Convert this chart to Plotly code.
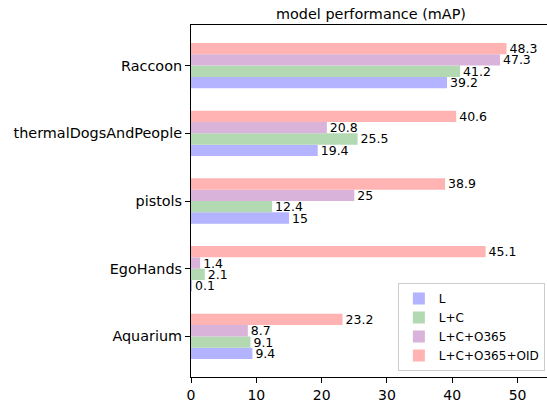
import plotly.graph_objects as go

categories = ["Aquarium", "EgoHands", "pistols", "thermalDogsAndPeople", "Raccoon"]
series_names = ["L", "L+C", "L+C+O365", "L+C+O365+OID"]
vals_L = [9.4, 0.1, 15, 19.4, 39.2]
vals_LC = [9.1, 2.1, 12.4, 25.5, 41.2]
vals_LCO = [8.7, 1.4, 25, 20.8, 47.3]
vals_LCOO = [23.2, 45.1, 38.9, 40.6, 48.3]
colors = ["rgb(179,179,255)", "rgb(179,217,179)", "rgb(217,179,217)", "rgb(255,179,179)"]

fig = go.Figure()
for name, vals, col in zip(series_names, [vals_L, vals_LC, vals_LCO, vals_LCOO], colors):
    fig.add_trace(go.Bar(
        y=categories, x=vals, name=name, orientation="h",
        marker=dict(color=col, line=dict(width=0)),
        texttemplate="%{x}", textposition="outside", constraintext="none",
        textfont=dict(size=12.5, color="black"), cliponaxis=False,
    ))

fig.update_layout(
    width=547, height=403,
    margin=dict(l=191, r=0, t=25, b=22),
    barmode="group", bargap=0.33, bargroupgap=0,
    paper_bgcolor="white", plot_bgcolor="white",
    font=dict(family="DejaVu Sans", size=14, color="black"),
    title=dict(text="model performance (mAP)", x=371/547, xref="container", xanchor="center",
               y=1 - 14/403, yref="container", yanchor="middle", font=dict(size=14.4)),
    legend=dict(x=0.994, y=0.017, xanchor="right", yanchor="bottom",
                bgcolor="rgba(255,255,255,0.8)", bordercolor="#cccccc", borderwidth=1,
                font=dict(size=12), traceorder="normal", tracegroupgap=0),
    showlegend=True,
)
fig.update_xaxes(range=[0, 54.5], showline=True, linecolor="black", linewidth=1, mirror=True,
                 ticks="outside", ticklen=5, tickcolor="black", showgrid=False, zeroline=False,
                 tickvals=[0, 10, 20, 30, 40, 50], tickfont=dict(size=14))
fig.update_yaxes(range=[-0.6, 4.6], showline=True, linecolor="black", linewidth=1, mirror=False,
                 ticks="outside", ticklen=5, tickcolor="black", showgrid=False,
                 tickfont=dict(size=14.4), automargin=False)

fig.write_html("out.html", config={"displayModeBar": False},
               post_script="document.body.style.margin='0';")
